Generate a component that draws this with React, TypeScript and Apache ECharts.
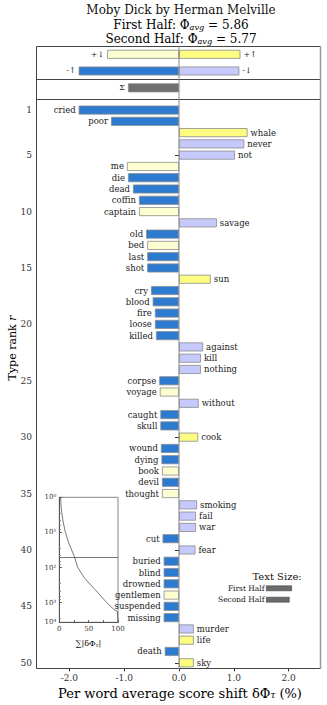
import React, { useEffect, useRef } from 'react';
import * as echarts from 'echarts';

const words = ['cried','poor','whale','never','not','me','die','dead','coffin','captain','savage','old','bed','last','shot','sun','cry','blood','fire','loose','killed','against','kill','nothing','corpse','voyage','without','caught','skull','cook','wound','dying','book','devil','thought','smoking','fail','war','cut','fear','buried','blind','drowned','gentlemen','suspended','missing','murder','life','death','sky'];
const shifts = [-1.83,-1.24,1.25,1.19,1.02,-0.95,-0.93,-0.84,-0.73,-0.73,0.69,-0.60,-0.58,-0.58,-0.58,0.58,-0.51,-0.48,-0.44,-0.44,-0.42,0.44,0.40,0.40,-0.36,-0.35,0.36,-0.34,-0.34,0.35,-0.33,-0.32,-0.31,-0.31,-0.31,0.33,0.31,0.31,-0.30,0.30,-0.28,-0.28,-0.28,-0.28,-0.28,-0.28,0.27,0.27,-0.26,0.27];
// nu: -↑ , pd: +↓ , pu: +↑ , nd: -↓
const kinds = ['nu','nu','pu','nd','nd','pd','nu','nu','nu','pd','nd','nu','pd','nu','nu','pu','nu','nu','nu','nu','nu','nd','nd','nd','nu','pd','nd','nu','nu','pu','nu','nu','pd','nu','pd','nd','nd','nd','nu','nd','nu','nu','nu','pd','nu','nu','nd','pu','nu','pu'];

const topNegValues = [-1.31, -1.83];
const topNegKinds = ['pd', 'nu'];
const topNegLabels = ['+\u2193', '-\u2191'];
const topPosValues = [1.12, 1.10];
const topPosKinds = ['pu', 'nd'];
const topPosLabels = ['+\u2191', '-\u2193'];
const sumValues = [-0.93];

const xTicks = [-2, -1, 0, 1, 2];
const X_MIN = -2.59;
const X_MAX = 2.59;

const insetRanks = [1, 2, 3, 5, 10, 20, 50, 100, 200, 500, 1000, 1500, 1800, 3600];
const insetCum = [2.2, 3.2, 4.5, 6.5, 10.5, 16, 26, 31.5, 43, 65, 81, 92, 99, 100];
const insetCutoff = 50;

const COLORS: Record<string, string> = { nu: '#2c7bd0', pd: '#fdfdd2', pu: '#fcfc80', nd: '#c5c9fb' };
const FONT = '"DejaVu Serif", serif';
const SUP = ['\u2070', '\u00b9', '\u00b2', '\u00b3', '\u2074'];

export default function App() {
  const ref = useRef<HTMLDivElement>(null);
  useEffect(() => {
    if (!ref.current) return;
    const chart = echarts.init(ref.current, undefined, { renderer: 'svg' });
    const L = 37, R = 321, W = R - L;
    const zeroX = L + (W * (0 - X_MIN)) / (X_MAX - X_MIN);
    const band = 11.28;
    const mainTop = 104.4;
    const barStyle = (k: string) => ({ color: COLORS[k], borderColor: '#8c8c8c', borderWidth: 0.8 });
    const lab = (text: string, pos: string, size = 8.5) => ({
      show: true, position: pos, formatter: text, distance: 3,
      fontFamily: FONT, fontSize: size, color: '#222',
    });
    const isRankTick = (i: number) => i === 0 || (i + 1) % 5 === 0;
    const subRich = (size: number) => ({
      n: { fontFamily: FONT, fontSize: size, color: '#111', verticalAlign: 'bottom', lineHeight: size * 1.2 },
      s: { fontFamily: FONT, fontSize: size * 0.68, fontStyle: 'italic', color: '#111', verticalAlign: 'bottom', lineHeight: size * 0.68 },
    });

    const option: any = {
      animation: false,
      grid: [
        { left: L, width: W, top: 46, height: 33.3 },
        { left: L, width: W, top: 79.3, height: 17 },
        { left: L, width: W, top: mainTop, height: band * 50 },
        { left: 59.3, width: 58.7, top: 497.3, height: 125, show: true, borderColor: '#888', borderWidth: 1, backgroundColor: '#fff' },
      ],
      xAxis: [
        { gridIndex: 0, type: 'value', min: X_MIN, max: X_MAX, show: false },
        { gridIndex: 1, type: 'value', min: X_MIN, max: X_MAX, show: false },
        {
          gridIndex: 2, type: 'value', min: X_MIN, max: X_MAX,
          axisLine: { show: false }, splitLine: { show: false },
          axisTick: { show: true, length: 3, customValues: xTicks, lineStyle: { color: '#333' } },
          axisLabel: { customValues: xTicks, formatter: (v: number) => v.toFixed(1), fontFamily: FONT, fontSize: 9, color: '#333', margin: 5 },
        },
        {
          gridIndex: 3, type: 'value', min: 0, max: 100, interval: 25,
          axisLine: { show: true, lineStyle: { color: '#555' } }, splitLine: { show: false },
          axisTick: { show: true, inside: true, length: 2, lineStyle: { color: '#555' } },
          axisLabel: { formatter: (v: number) => (v % 50 === 0 ? String(v) : ''), fontFamily: FONT, fontSize: 7, color: '#333', margin: 3, showMaxLabel: true, showMinLabel: true },
        },
      ],
      yAxis: [
        { gridIndex: 0, type: 'category', data: ['a', 'b'], inverse: true, show: false },
        { gridIndex: 1, type: 'category', data: ['s'], inverse: true, show: false },
        {
          gridIndex: 2, type: 'category', inverse: true,
          data: words.map((_, i) => String(i + 1)),
          axisLine: { show: false },
          axisTick: { show: true, length: 4, alignWithLabel: true, interval: (i: number) => isRankTick(i), lineStyle: { color: '#333' } },
          axisLabel: { interval: (i: number) => isRankTick(i), fontFamily: FONT, fontSize: 9, color: '#333', margin: 5 },
        },
        {
          gridIndex: 3, type: 'log', logBase: 10, min: 1, max: 3600, inverse: true,
          axisLine: { show: true, lineStyle: { color: '#555' } }, splitLine: { show: false },
          axisTick: { show: true, inside: true, length: 2.5, lineStyle: { color: '#555' } },
          minorTick: { show: true, splitNumber: 5, length: 1.5, lineStyle: { color: '#777' } },
          axisLabel: {
            formatter: (v: number) => '10' + SUP[Math.round(Math.log10(v))],
            fontFamily: FONT, fontSize: 7, color: '#333', margin: 3,
          },
        },
      ],
      series: [
        {
          type: 'bar', xAxisIndex: 0, yAxisIndex: 0, barWidth: 9, barGap: '-100%',
          data: topNegValues.map((v, i) => ({ value: v, itemStyle: barStyle(topNegKinds[i]), label: lab(topNegLabels[i], 'left', 8) })),
        },
        {
          type: 'bar', xAxisIndex: 0, yAxisIndex: 0, barWidth: 9, barGap: '-100%',
          data: topPosValues.map((v, i) => ({ value: v, itemStyle: barStyle(topPosKinds[i]), label: lab(topPosLabels[i], 'right', 8) })),
        },
        {
          type: 'bar', xAxisIndex: 1, yAxisIndex: 1, barWidth: 9,
          data: sumValues.map((v) => ({ value: v, itemStyle: { color: '#6f6f6f', borderColor: '#8c8c8c', borderWidth: 0.8 }, label: lab('\u03a3', 'left', 8) })),
        },
        {
          type: 'bar', xAxisIndex: 2, yAxisIndex: 2, barWidth: 9,
          data: shifts.map((v, i) => ({ value: v, itemStyle: barStyle(kinds[i]), label: lab(words[i], v < 0 ? 'left' : 'right') })),
        },
        {
          type: 'line', xAxisIndex: 3, yAxisIndex: 3, showSymbol: false, symbol: 'none',
          data: insetCum.map((c, i) => [c, insetRanks[i]]),
          lineStyle: { color: '#555', width: 0.8 },
          markLine: {
            silent: true, symbol: 'none', label: { show: false },
            lineStyle: { color: '#555', width: 0.8, type: 'solid' },
            data: [{ yAxis: insetCutoff }],
          },
        },
      ],
      graphic: [
        { type: 'rect', z: 20, shape: { x: L - 0.5, y: 46.5, width: W, height: 622 }, style: { fill: 'none', stroke: '#444', lineWidth: 1 } },
        { type: 'line', z: 21, shape: { x1: R - 0.5, y1: 46, x2: R - 0.5, y2: 669 }, style: { stroke: '#999', lineWidth: 1.5 } },
        { type: 'line', z: 20, shape: { x1: L, y1: 79.5, x2: R, y2: 79.5 }, style: { stroke: '#444', lineWidth: 1 } },
        { type: 'line', z: 20, shape: { x1: L, y1: 99.5, x2: R, y2: 99.5 }, style: { stroke: '#444', lineWidth: 1 } },
        { type: 'line', z: 20, shape: { x1: zeroX, y1: 46, x2: zeroX, y2: 669 }, style: { stroke: '#888', lineWidth: 1 } },
        { type: 'text', x: 181, y: 10, style: { text: 'Moby Dick by Herman Melville', fontFamily: FONT, fontSize: 12, fill: '#111', textAlign: 'center', textVerticalAlign: 'middle' } },
        { type: 'text', x: 181, y: 24, style: { text: '{n|First Half: \u03a6}{s|avg}{n| = 5.86}', rich: subRich(12), textAlign: 'center', textVerticalAlign: 'middle' } },
        { type: 'text', x: 181, y: 38, style: { text: '{n|Second Half: \u03a6}{s|avg}{n| = 5.77}', rich: subRich(12), textAlign: 'center', textVerticalAlign: 'middle' } },
        { type: 'text', x: 12, y: 348, rotation: Math.PI / 2, style: { text: '{n|Type rank }{i|r}', rich: { n: { fontFamily: FONT, fontSize: 11, color: '#111' }, i: { fontFamily: FONT, fontSize: 11, fontStyle: 'italic', color: '#111' } }, textAlign: 'center', textVerticalAlign: 'middle' } },
        { type: 'text', x: 180, y: 692, style: { text: '{n|Per word average score shift \u03b4\u03a6}{s|\u03c4}{n| (%)}', rich: subRich(13), textAlign: 'center', textVerticalAlign: 'middle' } },
        { type: 'text', x: 88.5, y: 642.5, style: { text: '{n|\u2211|\u03b4\u03a6}{s|\u03c4}{n||}', rich: subRich(8), textAlign: 'center', textVerticalAlign: 'middle' } },
        { type: 'text', x: 301.7, y: 576.7, style: { text: 'Text Size:', fontFamily: FONT, fontSize: 10, fill: '#111', textAlign: 'right', textVerticalAlign: 'middle' } },
        { type: 'text', x: 264.5, y: 588.3, style: { text: 'First Half', fontFamily: FONT, fontSize: 7.5, fill: '#111', textAlign: 'right', textVerticalAlign: 'middle' } },
        { type: 'text', x: 264.5, y: 599.5, style: { text: 'Second Half', fontFamily: FONT, fontSize: 7.5, fill: '#111', textAlign: 'right', textVerticalAlign: 'middle' } },
        { type: 'rect', shape: { x: 266.3, y: 585.8, width: 25.4, height: 5 }, style: { fill: '#6b6b6b', stroke: '#444', lineWidth: 0.6 } },
        { type: 'rect', shape: { x: 266.3, y: 597.2, width: 23, height: 5 }, style: { fill: '#6b6b6b', stroke: '#444', lineWidth: 0.6 } },
      ],
    };
    chart.setOption(option);
    return () => chart.dispose();
  }, []);
  return <div ref={ref} style={{ position: 'fixed', left: 0, top: 0, width: 327, height: 705, background: '#fff' }} />;
}
